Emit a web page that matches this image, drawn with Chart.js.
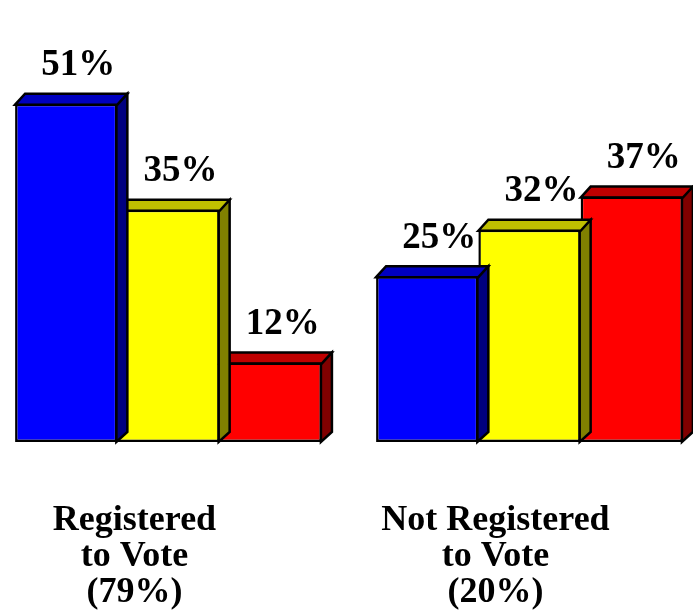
<!DOCTYPE html>
<html>
<head>
<meta charset="utf-8">
<script src="https://cdn.jsdelivr.net/npm/chart.js@4.4.1/dist/chart.umd.min.js"></script>
<style>
    html, body { margin: 0; padding: 0; background: #fff; overflow: hidden; width: 693px; height: 613px; }
    #wrap { position: absolute; left: -12px; top: 0; width: 722px; height: 672px; }
</style>
</head>
<body>
<div id="wrap"><canvas id="voteChart"></canvas></div>
<script>
"use strict";

// Chart data
const categories = [
    ["Registered", "to Vote", "(79%)"],
    ["Not Registered", "to Vote", "(20%)"]
];
const seriesBlue = [51, 25];
const seriesYellow = [35, 32];
const seriesRed = [12, 37];

const fontFamily = '"Liberation Serif", "Times New Roman", serif';

// Fill colours: front face, top face, side face
const faceColors = [
    { front: '#0000ff', top: '#0000c0', side: '#000080' },
    { front: '#ffff00', top: '#c0c000', side: '#808000' },
    { front: '#ff0000', top: '#c00000', side: '#800000' }
];

const DEPTH = 10;

// Draws the top and side faces of each bar before the flat front face
const depthPlugin = {
    id: 'depth3d',
    beforeDatasetDraw(chart, args) {
        const ctx = chart.ctx;
        const colors = faceColors[args.index];
        const meta = args.meta;
        ctx.save();
        ctx.lineWidth = 2.5;
        ctx.strokeStyle = '#000';
        ctx.lineJoin = 'miter';
        meta.data.forEach(bar => {
            const p = bar.getProps(['x', 'y', 'base', 'width'], true);
            const left = p.x - p.width / 2;
            const right = p.x + p.width / 2;
            const top = p.y;
            const bottom = p.base;

            // side face
            ctx.beginPath();
            ctx.moveTo(right - 1, top);
            ctx.lineTo(right + DEPTH, top - DEPTH);
            ctx.lineTo(right + DEPTH, bottom - DEPTH);
            ctx.lineTo(right - 1, bottom);
            ctx.closePath();
            ctx.fillStyle = colors.side;
            ctx.fill();
            ctx.stroke();

            // top face
            ctx.beginPath();
            ctx.moveTo(left, top + 1);
            ctx.lineTo(left + DEPTH, top - DEPTH);
            ctx.lineTo(right + DEPTH, top - DEPTH);
            ctx.lineTo(right, top + 1);
            ctx.closePath();
            ctx.fillStyle = colors.top;
            ctx.fill();
            ctx.stroke();
        });
        ctx.restore();
    },
    afterDatasetsDraw(chart) {
        const ctx = chart.ctx;
        ctx.save();
        ctx.font = 'bold 37px ' + fontFamily;
        ctx.fillStyle = '#000';
        ctx.textAlign = 'center';
        ctx.textBaseline = 'middle';
        chart.data.datasets.forEach((ds, i) => {
            const meta = chart.getDatasetMeta(i);
            meta.data.forEach((bar, j) => {
                ctx.fillText(ds.data[j] + '%', bar.x + 12, bar.y - 38);
            });
        });
        ctx.restore();
    }
};

const datasets = [seriesBlue, seriesYellow, seriesRed].map((values, i) => ({
    label: 'Series ' + (i + 1),
    data: values,
    backgroundColor: faceColors[i].front,
    borderColor: '#000',
    borderWidth: 2.5,
    borderSkipped: false,
    barPercentage: 1.0,
    categoryPercentage: 0.85
}));

new Chart(document.getElementById('voteChart'), {
    type: 'bar',
    data: {
        labels: categories,
        datasets: datasets
    },
    options: {
        responsive: true,
        maintainAspectRatio: false,
        animation: false,
        layout: {
            padding: { top: 44, left: 0, right: 0, bottom: 0 }
        },
        plugins: {
            legend: { display: false },
            tooltip: { enabled: false }
        },
        scales: {
            x: {
                grid: { display: false, drawTicks: false },
                border: { display: false },
                ticks: {
                    color: '#000',
                    padding: 61,
                    labelOffset: -34,
                    maxRotation: 0,
                    autoSkip: false,
                    font: { family: fontFamily, size: 36, weight: 'bold', lineHeight: 1.0 }
                }
            },
            y: {
                display: false,
                min: 0,
                max: 60
            }
        }
    },
    plugins: [depthPlugin]
});
</script>
</body>
</html>
